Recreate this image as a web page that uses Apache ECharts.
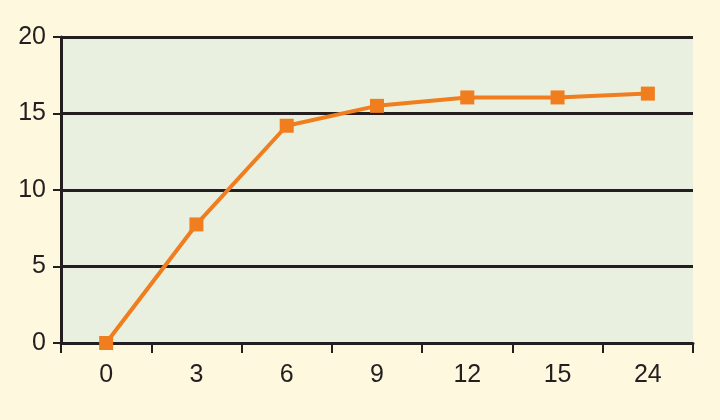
<!DOCTYPE html>
<html>
<head>
<meta charset="utf-8">
<script src="https://cdn.jsdelivr.net/npm/echarts@6/dist/echarts.min.js"></script>
<style>
html,body{margin:0;padding:0;background:#fdf8de;}
#c{width:720px;height:420px;}
</style>
</head>
<body>
<div id="c"></div>
<script>
var categories = ['0', '3', '6', '9', '12', '15', '24'];
var values = [0, 7.75, 14.2, 15.5, 16.05, 16.05, 16.3];
var yTicks = [0, 5, 10, 15, 20];

var chart = echarts.init(document.getElementById('c'));
chart.setOption({
  backgroundColor: '#fdf8de',
  animation: false,
  grid: {
    left: 61, right: 27, top: 37, bottom: 77,
    show: true, backgroundColor: '#eaf0e0', borderWidth: 0
  },
  xAxis: {
    type: 'category',
    data: categories,
    boundaryGap: true,
    axisLine: {lineStyle: {color: '#231f20', width: 3}},
    axisTick: {show: true, length: 10, lineStyle: {color: '#231f20', width: 2}, alignWithLabel: false},
    axisLabel: {color: '#231f20', fontSize: 25, fontFamily: 'Liberation Sans', margin: 20}
  },
  yAxis: {
    type: 'value',
    min: yTicks[0], max: yTicks[yTicks.length - 1], interval: 5,
    axisLine: {show: true, lineStyle: {color: '#231f20', width: 3}},
    axisTick: {show: true, length: 8, lineStyle: {color: '#231f20', width: 2}},
    axisLabel: {color: '#231f20', fontSize: 25, fontFamily: 'Liberation Sans', margin: 15},
    splitLine: {show: true, lineStyle: {color: '#231f20', width: 3}}
  },
  series: [{
    type: 'line',
    data: values,
    symbol: 'rect',
    symbolSize: 14,
    itemStyle: {color: '#f07d1e'},
    lineStyle: {color: '#f07d1e', width: 4},
    z: 5
  }]
});
</script>
</body>
</html>
